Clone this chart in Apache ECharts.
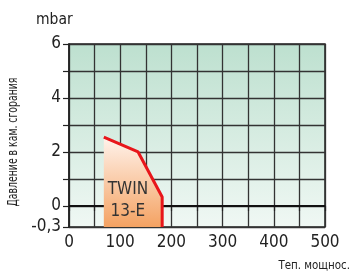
<!DOCTYPE html>
<html>
<head>
<meta charset="utf-8">
<title>TWIN 13-E</title>
<script src="https://cdn.jsdelivr.net/npm/echarts@6/dist/echarts.min.js"></script>
<style>
  html, body { margin: 0; padding: 0; background: #fff; }
  #chart { width: 352px; height: 273px; }
</style>
</head>
<body>
<div id="chart"></div>
<script>
// рабочее поле горелки (Теп. мощнос., mbar)
var fieldX = [68, 135, 182, 182];
var fieldY = [2.55, 2.0, 0.33, -0.78];
var yTicks = [-0.78, 0, 1, 2, 3, 4, 5, 6];
var yLabels = [-0.78, 0, 2, 4, 6];
var yLabelText = { '-0.78': '-0,3' };
var modelName = 'TWIN\n13-E';

var font = '"DejaVu Sans Condensed", "Liberation Sans Narrow", sans-serif';
var chart = echarts.init(document.getElementById('chart'));

var data = [];
for (var i = 0; i < fieldX.length; i++) data.push([fieldX[i], fieldY[i]]);

chart.setOption({
  animation: false,
  grid: {
    left: 69, right: 27, top: 44, bottom: 46,
    show: true,
    borderColor: '#222', borderWidth: 1.5,
    backgroundColor: new echarts.graphic.LinearGradient(0, 0, 0, 1, [
      { offset: 0, color: '#bde0cf' },
      { offset: 1, color: '#f0f8f4' }
    ])
  },
  xAxis: {
    type: 'value', min: 0, max: 500, interval: 50,
    axisLine: { lineStyle: { color: '#222', width: 1.5 } },
    axisTick: { length: 5, lineStyle: { color: '#222', width: 1.2 } },
    axisLabel: {
      color: '#222', fontSize: 17, fontFamily: font, margin: 7,
      formatter: function (v) { return v % 100 === 0 ? String(v) : ''; }
    },
    splitLine: { lineStyle: { color: '#333', width: 1.3 } }
  },
  yAxis: {
    type: 'value', min: -0.78, max: 6,
    axisLine: { show: true, lineStyle: { color: '#222', width: 1.5 } },
    axisTick: { show: true, length: 6, customValues: yTicks, lineStyle: { color: '#222', width: 1.2 } },
    axisLabel: {
      color: '#222', fontSize: 17, fontFamily: font, margin: 8,
      customValues: yLabels,
      formatter: function (v) { return yLabelText[String(v)] || String(v); }
    },
    splitLine: { lineStyle: { color: '#333', width: 1.3 } }
  },
  graphic: [
    { type: 'text', left: 36, top: 12, style: { text: 'mbar', fontSize: 15.5, fontFamily: font, fill: '#222' } },
    { type: 'text', x: 350, y: 266, scaleX: 0.88,
      style: { text: 'Теп. мощнос.', fontSize: 13, fontFamily: font, fill: '#222', align: 'right', verticalAlign: 'middle' } },
    { type: 'text', x: 13, y: 142, rotation: Math.PI / 2, scaleX: 0.74,
      style: { text: 'Давление в кам. сгорания', fontSize: 14, fontFamily: font, fill: '#222', align: 'center', verticalAlign: 'middle' } }
  ],
  series: [{
    // толстая линия нуля, под заливкой
    type: 'line',
    data: [],
    z: 1,
    markLine: {
      z: 1,
      silent: true, symbol: 'none', label: { show: false },
      lineStyle: { color: '#111', width: 2, type: 'solid' },
      data: [{ yAxis: 0 }]
    }
  }, {
    type: 'line',
    data: data,
    z: 3,
    symbol: 'none',
    lineStyle: { color: '#e8161b', width: 3 },
    areaStyle: {
      origin: 'start', opacity: 1,
      color: new echarts.graphic.LinearGradient(0, 0, 0, 1, [
        { offset: 0, color: '#fff3ec' },
        { offset: 1, color: '#f4a262' }
      ])
    },
    markPoint: {
      symbol: 'rect', symbolSize: 1,
      itemStyle: { color: 'rgba(0,0,0,0)' },
      label: { show: true, position: 'inside', formatter: modelName, color: '#333', fontSize: 17, fontFamily: font, lineHeight: 22, align: 'center' },
      data: [{ coord: [115, 0.2] }]
    }
  }]
});
</script>
</body>
</html>
